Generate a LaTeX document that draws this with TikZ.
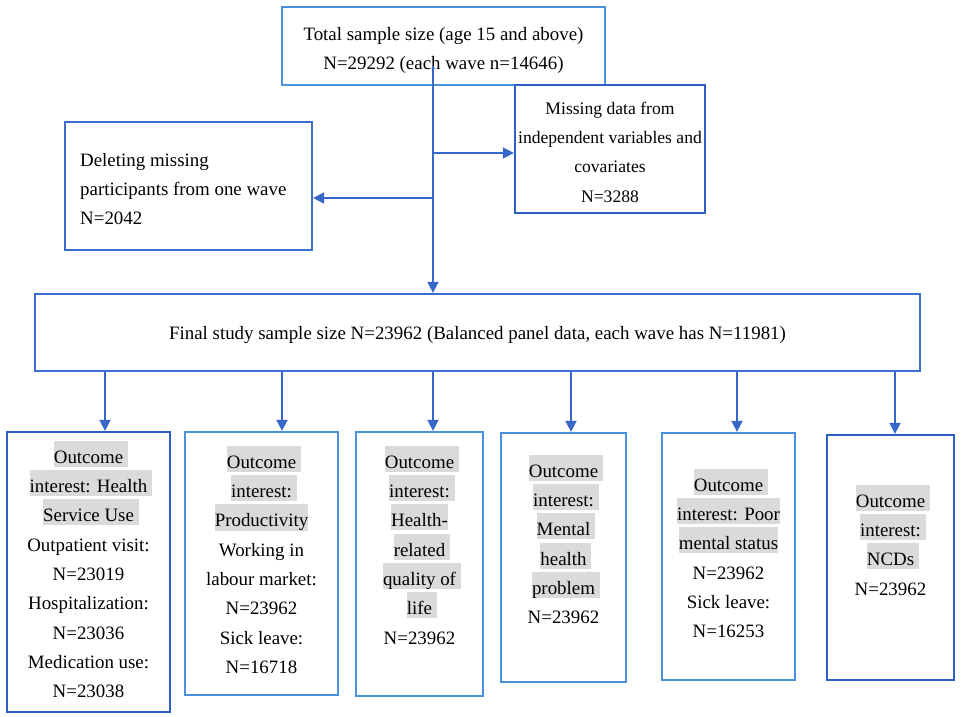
\documentclass[tikz,border=0pt]{standalone}
\usepackage{fontspec}
\setmainfont{Liberation Serif}
\usetikzlibrary{arrows.meta}
\definecolor{darkb}{HTML}{2F5FC4}
\definecolor{midb}{HTML}{3A6DCD}
\definecolor{lightb}{HTML}{4A90DA}
\definecolor{arrowb}{HTML}{3667C9}
\definecolor{hlgray}{HTML}{DADADA}
\setlength{\fboxsep}{0pt}
% strut for the first line of each text block
\newcommand\firstln{\rule{0pt}{22.5pt}}
% grey highlight, with and without the trailing space
\newcommand\hlbar[1]{\rlap{\colorbox{hlgray}{\rule[-3.5pt]{0pt}{26pt}#1\ }}\phantom{#1}}
\newcommand\hlbarx[1]{\colorbox{hlgray}{\rule[-3.5pt]{0pt}{26pt}#1}}
\tikzset{
    box/.style={draw=#1, line width=2.3pt, inner sep=0pt},
    txt/.style={anchor=north, align=center, inner sep=0pt, font=\fontsize{18.9}{29.3}\selectfont},
    arr/.style={draw=arrowb, line width=1.8pt, -{Triangle[width=11pt,length=11pt]}},
}
\begin{document}
\begin{tikzpicture}[x=1pt,y=-1pt]
            \fill[white] (0,0) rectangle (962,716);
            \useasboundingbox (0,0) rectangle (962,716);
            % boxes
            \node[box=lightb, minimum width=323pt, minimum height=78pt] (top) at (443.5,46) {};
            \node[box=darkb, minimum width=190pt, minimum height=128pt] (miss) at (610,149) {};
            \node[box=midb, minimum width=247pt, minimum height=128pt] (del) at (188.5,186) {};
            \node[box=midb, minimum width=885pt, minimum height=77pt] (final) at (477.5,332.5) {};
            \node[box=darkb, minimum width=163pt, minimum height=280pt] (b1) at (88.5,572) {};
            \node[box=lightb, minimum width=153pt, minimum height=263pt] (b2) at (261.5,563.5) {};
            \node[box=lightb, minimum width=127pt, minimum height=264pt] (b3) at (419.5,564) {};
            \node[box=lightb, minimum width=125pt, minimum height=249pt] (b4) at (563.5,557.5) {};
            \node[box=lightb, minimum width=133pt, minimum height=247pt] (b5) at (728.5,556.5) {};
            \node[box=darkb, minimum width=127pt, minimum height=245pt] (b6) at (890.5,557.5) {};
            % texts
            \node[txt] (ttxt) at (443.5,17.5) {\firstln Total sample size (age 15 and above)\\N=29292 (each wave n=14646)};
            \node[txt, font=\fontsize{17.6}{29.3}\selectfont] (mtxt) at (610,91.5) {\firstln Missing data from\\independent variables and\\covariates\\N=3288};
            \node[txt, anchor=north west, align=left] (dtxt) at (80,143.5) {\firstln Deleting missing\\participants from one wave\\N=2042};
            \node[txt] (ftxt) at (477.5,316.5) {\firstln Final study sample size N=23962 (Balanced panel data, each wave has N=11981)};
            \node[txt] (t1) at (88.5,440.5) {\hlbar{Outcome}\\\hlbar{interest: Health}\\\hlbar{Service Use}\\Outpatient visit:\\N=23019\\Hospitalization:\\N=23036\\Medication use:\\N=23038};
            \node[txt] (t2) at (261.5,445.5) {\hlbar{Outcome}\\\hlbar{interest:}\\\hlbarx{Productivity}\\Working in\\labour market:\\N=23962\\Sick leave:\\N=16718};
            \node[txt] (t3) at (419.5,445.5) {\hlbar{Outcome}\\\hlbar{interest:}\\\hlbarx{Health-}\\\hlbar{related}\\\hlbar{quality of}\\\hlbar{life}\\N=23962};
            \node[txt] (t4) at (563.5,454.5) {\hlbar{Outcome}\\\hlbar{interest:}\\\hlbar{Mental}\\\hlbar{health}\\\hlbar{problem}\\N=23962};
            \node[txt] (t5) at (728.5,468.5) {\hlbar{Outcome}\\\hlbarx{interest: Poor}\\\hlbarx{mental status}\\N=23962\\Sick leave:\\N=16253};
            \node[txt] (t6) at (890.5,484.5) {\hlbar{Outcome}\\\hlbar{interest:}\\\hlbar{NCDs}\\N=23962};
            % connectors
            \coordinate (trunk) at (433,66);
            \coordinate (jr) at (433,153);
            \coordinate (jl) at (433,198);
            \draw[arr] (trunk) -- (trunk |- final.north);
            \draw[arr] (jr) -- (jr -| miss.west);
            \draw[arr] (jl) -- (jl -| del.east);
            \foreach \b/\dx in {b1/16.5, b2/20.5, b3/13.5, b4/7.5, b5/8.5, b6/4.5}
                \draw[arr] ([xshift=\dx pt]\b.north |- final.south) -- ([xshift=\dx pt]\b.north);
        \end{tikzpicture}
\end{document}
